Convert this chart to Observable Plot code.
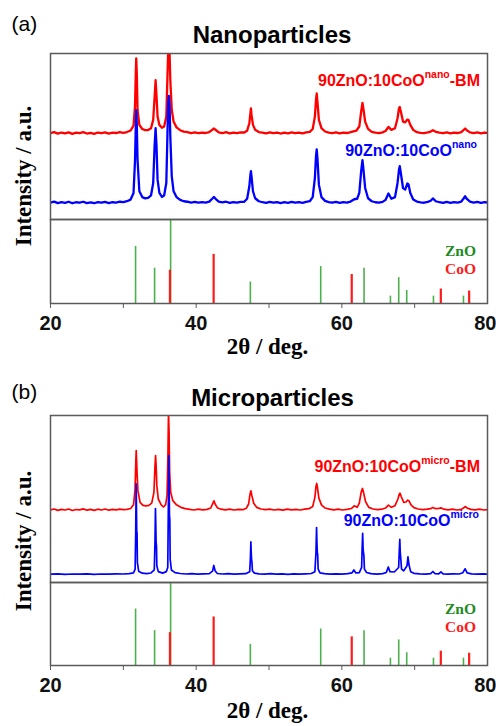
<!DOCTYPE html>
<html><head><meta charset="utf-8">
<script src="https://cdn.jsdelivr.net/npm/d3@7"></script>
<script src="https://cdn.jsdelivr.net/npm/@observablehq/plot@0.6"></script>
<style>
body{margin:0;background:#fff;}
#root{position:relative;width:496px;height:726px;overflow:hidden;background:#fff}
</style></head><body><div id="root"></div><script>
// ---- reference stick patterns (2θ, relative intensity %) ----
const znoPos = [31.68, 34.29, 36.49, 47.44, 57.10, 63.05, 66.67, 67.81, 68.91, 72.58, 76.70];
const znoRel = [68, 42, 100, 25.5, 44, 42, 8.8, 30.8, 15.4, 8.8, 8.8];
const cooPos = [36.40, 42.40, 61.36, 73.59, 77.48];
const cooRel = [39.6, 58.5, 34.5, 17.2, 14.8];

// ---- x axis ticks ----
const xTicks = [20, 30, 40, 50, 60, 70, 80];
const xTickLabels = ["20", "", "40", "", "60", "", "80"];

// ---- measured patterns (2θ, intensity a.u., stacked) ----
const nanoBM = [[20,52.0],[20.5,52.6],[21,51.7],[21.5,52.4],[22,51.9],[22.5,52.5],[23,51.6],[23.5,52.3],[24,52.0],[24.5,52.6],[25,51.8],[25.5,52.2],[26,51.6],[26.5,52.4],[27,52.0],[27.5,52.5],[28,51.7],[28.5,52.3],[29,52.1],[29.5,52.6],[30,52.2],[30.5,52.7],[31.0,53.6],[31.4,56.5],[31.6,68],[31.72,90],[31.77,97],[31.85,88],[31.95,66],[32.2,57],[32.6,54.5],[33.0,53.8],[33.4,53.9],[33.8,55],[34.1,60],[34.3,74],[34.43,83.9],[34.55,75],[34.7,62],[34.95,57],[35.3,55.3],[35.6,56],[35.9,62],[36.05,85],[36.15,100],[36.25,104],[36.35,100],[36.45,84],[36.65,66],[36.9,59],[37.3,55.5],[37.8,53.8],[38.3,52.9],[38.8,52.6],[39.3,52.1],[39.8,52.5],[40.3,52.0],[40.8,52.4],[41.3,52.1],[41.8,52.7],[42.2,54.0],[42.44,54.8],[42.7,53.9],[43.1,52.5],[43.6,52.1],[44.1,52.6],[44.6,51.9],[45.1,52.4],[45.6,52.0],[46.1,52.5],[46.6,52.4],[47.0,53.5],[47.3,58],[47.45,64],[47.52,66.9],[47.6,63],[47.8,57],[48.1,54],[48.6,52.7],[49.1,52.3],[49.6,51.9],[50.1,52.5],[50.6,52.0],[51.1,52.4],[51.6,51.8],[52.1,52.3],[52.6,51.9],[53.1,52.5],[53.6,52.0],[54.1,52.4],[54.6,51.9],[55.1,52.5],[55.6,52.8],[56.0,54.5],[56.3,62],[56.45,72],[56.55,75.9],[56.65,71],[56.85,60],[57.2,55],[57.7,53],[58.2,52.3],[58.7,52.0],[59.2,52.5],[59.7,51.9],[60.2,52.4],[60.7,52.1],[61.2,52.6],[61.6,53.1],[62.0,53.6],[62.4,56],[62.65,65],[62.83,70.2],[62.95,67],[63.2,59],[63.6,54.6],[64.1,52.8],[64.6,52.3],[65.1,52.0],[65.6,52.5],[66.0,53.3],[66.4,55.8],[66.8,54.0],[67.3,55],[67.65,61],[67.85,67],[67.95,67.8],[68.1,65],[68.4,59],[68.7,58.5],[69.0,60.2],[69.15,60],[69.4,57],[69.8,54],[70.3,52.6],[70.8,52.2],[71.3,52.0],[71.8,52.5],[72.2,53.0],[72.5,53.8],[72.9,52.8],[73.4,52.3],[73.9,52.0],[74.4,52.5],[74.9,51.9],[75.4,52.4],[75.9,52.1],[76.4,52.6],[76.7,53.8],[76.93,54.8],[77.2,53.6],[77.6,52.5],[78.1,52.1],[78.6,52.5],[79.1,51.9],[79.6,52.4],[80,52.1]];

const nano = [[20,10.2],[20.5,10.8],[21,9.9],[21.5,10.5],[22,10.0],[22.5,10.7],[23,9.8],[23.5,10.4],[24,10.1],[24.5,10.7],[25,9.9],[25.5,10.3],[26,9.8],[26.5,10.5],[27,10.1],[27.5,10.6],[28,9.9],[28.5,10.4],[29,10.2],[29.5,10.7],[30,10.5],[30.5,11.0],[31.0,12.0],[31.4,16],[31.6,35],[31.72,58],[31.77,65.8],[31.85,57],[31.95,36],[32.2,17],[32.6,13.5],[33.0,12.7],[33.4,13.0],[33.8,14.5],[34.1,22],[34.3,45],[34.43,55],[34.55,45],[34.7,24],[34.95,16],[35.3,13.6],[35.6,14.5],[35.9,22],[36.05,50],[36.15,70],[36.25,74.5],[36.35,69],[36.45,50],[36.65,26],[36.9,17],[37.3,13.5],[37.8,11.8],[38.3,11.0],[38.8,10.7],[39.3,10.2],[39.8,10.6],[40.3,10.1],[40.8,10.5],[41.3,10.2],[41.8,10.8],[42.2,12.5],[42.44,13.6],[42.7,12.3],[43.1,10.8],[43.6,10.3],[44.1,10.7],[44.6,10.0],[45.1,10.5],[45.6,10.1],[46.1,10.6],[46.6,10.7],[47.0,12.5],[47.3,20],[47.45,27],[47.52,29.1],[47.6,26],[47.8,17],[48.1,12.8],[48.6,11.0],[49.1,10.4],[49.6,10.0],[50.1,10.6],[50.6,10.1],[51.1,10.5],[51.6,9.9],[52.1,10.4],[52.6,10.0],[53.1,10.6],[53.6,10.1],[54.1,10.5],[54.6,10.0],[55.1,10.6],[55.6,11.0],[56.0,13.5],[56.3,25],[56.45,38],[56.55,42.2],[56.65,37],[56.85,21],[57.2,13.5],[57.7,11.2],[58.2,10.5],[58.7,10.1],[59.2,10.6],[59.7,10.0],[60.2,10.5],[60.7,10.2],[61.2,10.8],[61.7,12.2],[62.1,12.5],[62.4,16],[62.65,29],[62.83,35.7],[62.95,31],[63.2,19],[63.6,12.8],[64.1,11.0],[64.6,10.4],[65.1,10.1],[65.6,10.6],[66.0,11.8],[66.4,15.7],[66.8,12.5],[67.3,13.5],[67.65,22],[67.85,30],[67.95,32.1],[68.1,28],[68.4,19],[68.7,18],[69.0,21.7],[69.15,21.2],[69.4,16],[69.8,12],[70.3,10.8],[70.8,10.3],[71.3,10.1],[71.8,10.6],[72.2,11.3],[72.5,12.7],[72.9,11.0],[73.4,10.4],[73.9,10.0],[74.4,10.6],[74.9,10.0],[75.4,10.5],[75.9,10.2],[76.4,10.8],[76.7,12.5],[76.93,14.0],[77.2,12.2],[77.6,10.7],[78.1,10.2],[78.6,10.6],[79.1,10.0],[79.6,10.5],[80,10.2]];

const microBM = [[20,43.5],[20.5,44.0],[21,43.2],[21.5,43.8],[22,43.4],[22.5,44.0],[23,43.1],[23.5,43.7],[24,43.5],[24.5,44.1],[25,43.3],[25.5,43.8],[26,43.2],[26.5,43.9],[27,43.4],[27.5,44.0],[28,43.3],[28.5,43.8],[29,43.5],[29.5,43.9],[30,43.6],[30.5,43.8],[31.0,44.3],[31.4,46.5],[31.6,55],[31.72,73],[31.77,79],[31.83,72],[31.9,64],[32.0,55],[32.3,48],[32.7,46.2],[33.1,45.9],[33.5,46.2],[33.9,47.5],[34.2,54],[34.35,70],[34.43,76],[34.5,70],[34.6,58],[34.8,50],[35.2,46.5],[35.5,45.2],[35.8,46.5],[36.0,52],[36.12,75],[36.2,102],[36.28,90],[36.36,66],[36.5,54],[36.8,49],[37.3,46.5],[37.9,45.0],[38.5,44.2],[39.1,43.8],[39.7,43.4],[40.3,43.9],[40.9,43.5],[41.5,43.8],[42.0,44.6],[42.3,47.5],[42.44,48.9],[42.6,47.0],[42.9,44.8],[43.4,43.9],[44.0,43.5],[44.6,43.9],[45.2,43.4],[45.8,43.8],[46.4,43.6],[46.9,44.5],[47.2,47],[47.4,53],[47.52,54.9],[47.65,52],[47.9,47.5],[48.3,45.0],[48.9,44.0],[49.5,43.6],[50.1,43.9],[50.7,43.4],[51.3,43.8],[51.9,43.3],[52.5,43.9],[53.1,43.5],[53.7,43.8],[54.3,43.4],[54.9,43.9],[55.5,44.2],[56.0,45.5],[56.3,51],[56.45,57.5],[56.55,59.3],[56.65,57],[56.85,50.5],[57.2,46.5],[57.7,44.6],[58.3,43.9],[58.9,43.5],[59.5,43.9],[60.1,43.4],[60.7,43.8],[61.3,44.3],[61.7,45.9],[62.1,45.0],[62.4,47.5],[62.65,54],[62.83,56.3],[62.98,54],[63.25,48.5],[63.7,45.0],[64.3,44.0],[64.9,43.6],[65.5,43.9],[66.0,44.6],[66.4,46.3],[66.8,45.0],[67.3,46],[67.7,50],[67.9,53],[67.98,53.5],[68.15,51.5],[68.5,48],[68.8,48.2],[69.05,49.3],[69.2,49],[69.5,46.5],[69.9,44.8],[70.5,44.0],[71.1,43.6],[71.7,43.9],[72.2,44.2],[72.5,44.9],[72.9,44.2],[73.3,44.3],[73.6,44.7],[74.0,43.9],[74.6,43.5],[75.2,43.9],[75.8,43.4],[76.4,43.8],[76.7,44.6],[76.93,45.5],[77.2,44.6],[77.7,43.8],[78.3,43.5],[78.9,43.9],[79.5,43.4],[80,43.7]];

const micro = [[20,5.0],[21,5.2],[22,4.9],[23,5.1],[24,5.0],[25,5.2],[26,4.9],[27,5.1],[28,5.0],[29,5.2],[30,5.1],[30.8,5.3],[31.4,5.8],[31.62,8],[31.7,30],[31.76,59],[31.8,45],[31.84,30],[31.88,30],[31.93,12],[32.1,6.8],[32.6,5.6],[33.2,5.3],[33.8,5.7],[34.25,7.5],[34.35,25],[34.41,44.3],[34.46,34],[34.5,24],[34.55,22],[34.6,10],[34.8,6.5],[35.4,5.6],[35.9,6.5],[36.1,9],[36.18,45],[36.24,76],[36.29,58],[36.33,40],[36.38,38],[36.43,14],[36.6,7.5],[37.1,5.9],[37.8,5.4],[38.6,5.1],[39.4,5.3],[40.2,5.0],[41.0,5.2],[41.8,5.3],[42.25,6.8],[42.42,10.2],[42.6,7.0],[42.9,5.4],[43.6,5.1],[44.4,5.3],[45.2,5.0],[46.0,5.2],[46.8,5.3],[47.35,6.5],[47.45,15],[47.51,24.3],[47.56,18],[47.6,14],[47.66,12],[47.72,7],[48.0,5.6],[48.6,5.2],[49.4,5.0],[50.2,5.3],[51.0,5.0],[51.8,5.2],[52.6,4.9],[53.4,5.2],[54.2,5.0],[55.0,5.2],[55.8,5.4],[56.3,6.5],[56.45,18],[56.53,32.9],[56.58,24],[56.63,18],[56.68,17],[56.75,8],[57.0,5.8],[57.6,5.3],[58.4,5.0],[59.2,5.2],[60.0,5.0],[60.8,5.3],[61.4,5.8],[61.65,7.5],[61.9,5.8],[62.4,5.9],[62.72,9],[62.8,22],[62.86,29.4],[62.92,20],[62.97,18],[63.03,16],[63.1,8],[63.4,6.0],[64.0,5.3],[64.8,5.0],[65.6,5.3],[66.1,6.0],[66.38,9.3],[66.6,6.5],[67.2,6.3],[67.8,9],[67.9,20],[67.96,25.8],[68.02,18],[68.1,14],[68.2,8],[68.5,7.0],[68.95,10],[69.08,15.3],[69.15,13],[69.25,10],[69.45,6.5],[69.9,5.5],[70.7,5.2],[71.5,5.0],[72.2,5.3],[72.5,6.6],[72.8,5.3],[73.3,5.2],[73.6,6.4],[73.9,5.2],[74.5,5.0],[75.3,5.2],[76.1,5.1],[76.6,5.8],[76.93,8.2],[77.2,5.8],[77.8,5.2],[78.6,5.0],[79.4,5.2],[80,5.0]];

// ---- text ----
const panelTags = ["(a)", "(b)"];
const panelTitles = ["Nanoparticles", "Microparticles"];
const seriesLabels = [["90ZnO:10CoO", "nano", "-BM"], ["90ZnO:10CoO", "nano", ""], ["90ZnO:10CoO", "micro", "-BM"], ["90ZnO:10CoO", "micro", ""]];
const legendLabels = ["ZnO", "CoO"];
const yLabel = "Intensity / a.u.";
const xLabel = "2θ / deg.";

const RED = "#ff0000", BLUE = "#0000ff", GREEN = "#4cb04c", GREEN_TXT = "#1f8a1f", STICK_RED = "#ff1a1a", FRAME = "#5a5a5a";
const SANS = "Arial, 'Liberation Sans', sans-serif";
const SERIF = "'Times New Roman', 'Liberation Serif', serif";

const zno = znoPos.map((p, i) => ({pos: p, rel: znoRel[i]}));
const coo = cooPos.map((p, i) => ({pos: p, rel: cooRel[i]}));
const lastTick = xTicks[xTicks.length - 1];

const root = document.getElementById("root");
function place(svg, top) {
  svg.style.position = "absolute"; svg.style.left = "0px"; svg.style.top = top + "px";
  root.appendChild(svg);
}

function curvePlot(series, h) {
  return Plot.plot({
    width: 496, height: h, marginLeft: 50, marginRight: 9, marginTop: 0, marginBottom: 0,
    style: {overflow: "visible", background: "transparent"},
    x: {domain: [20, 80], axis: null},
    y: {domain: [0, 100], axis: null},
    marks: [
      ...series.map(s => Plot.line(s.data, {x: d => d[0], y: d => d[1], stroke: s.color, strokeWidth: s.width, clip: true, strokeLinejoin: "round"})),
      Plot.frame({stroke: FRAME, strokeWidth: 1.5})
    ]
  });
}

function stickPlot(h) {
  const axisStyle = {tickSize: 5, tickPadding: 7, stroke: FRAME, fill: "#111", fontSize: 20, fontWeight: "bold", fontFamily: SANS, label: null};
  return Plot.plot({
    width: 496, height: h + 45, marginLeft: 50, marginRight: 9, marginTop: 0, marginBottom: 45,
    style: {overflow: "visible", background: "transparent"},
    x: {domain: [20, 80]},
    y: {domain: [0, 100], axis: null},
    marks: [
      Plot.ruleX(zno, {x: "pos", y1: 0, y2: "rel", stroke: GREEN, strokeWidth: 1.6}),
      Plot.ruleX(coo, {x: "pos", y1: 0, y2: "rel", stroke: STICK_RED, strokeWidth: 2.2}),
      Plot.frame({stroke: FRAME, strokeWidth: 1.5}),
      Plot.axisX({...axisStyle, ticks: xTicks.slice(0, -1), tickFormat: d => xTickLabels[xTicks.indexOf(d)]}),
      Plot.axisX({...axisStyle, ticks: [lastTick], tickFormat: d => xTickLabels[xTicks.indexOf(d)], textAnchor: "end", dx: 9})
    ]
  });
}

// panel (a)
place(curvePlot([{data: nanoBM, color: RED, width: 2.3}, {data: nano, color: BLUE, width: 2.3}], 166), 53);
place(stickPlot(84), 219);
// panel (b)
place(curvePlot([{data: microBM, color: RED, width: 1.7}, {data: micro, color: BLUE, width: 1.7}], 167), 415);
place(stickPlot(83), 582);

// text overlay
const ov = d3.create("svg").attr("width", 496).attr("height", 726)
  .style("position", "absolute").style("left", "0px").style("top", "0px").style("pointer-events", "none");

const layout = [
  {tagY: 30.6, titleY: 42.7, titleX: 272, yLabY: 176, xLabY: 353.5, legY: [256, 273.5], labY: [86, 156], labX: [480, 477], labels: [0, 1]},
  {tagY: 399, titleY: 406, titleX: 272.5, yLabY: 541, xLabY: 717.5, legY: [614, 631.5], labY: [472, 526], labX: [480, 479], labels: [2, 3]}
];
layout.forEach((L, p) => {
  ov.append("text").attr("x", 11.5).attr("y", L.tagY).attr("font-family", SANS).attr("font-size", 21).text(panelTags[p]);
  ov.append("text").attr("x", L.titleX).attr("y", L.titleY).attr("text-anchor", "middle").attr("font-family", SANS)
    .attr("font-size", 24).attr("font-weight", "bold").text(panelTitles[p]);
  ov.append("text").attr("transform", `translate(31,${L.yLabY}) rotate(-90)`).attr("text-anchor", "middle")
    .attr("font-family", SERIF).attr("font-size", 23).attr("font-weight", "bold").text(yLabel);
  ov.append("text").attr("x", 267.5).attr("y", L.xLabY).attr("text-anchor", "middle")
    .attr("font-family", SERIF).attr("font-size", 23).attr("font-weight", "bold").text(xLabel);
  legendLabels.forEach((t, i) => {
    ov.append("text").attr("x", 476).attr("y", L.legY[i]).attr("text-anchor", "end").attr("font-family", SERIF)
      .attr("font-size", 15.5).attr("font-weight", "bold").attr("fill", i === 0 ? GREEN_TXT : STICK_RED).text(t);
  });
  L.labels.forEach((li, k) => {
    const [a, sup, b] = seriesLabels[li];
    const t = ov.append("text").attr("x", L.labX[k]).attr("y", L.labY[k]).attr("text-anchor", "end")
      .attr("font-family", SANS).attr("font-size", 16).attr("font-weight", "bold").attr("fill", k === 0 ? RED : BLUE);
    t.append("tspan").text(a);
    t.append("tspan").attr("dy", -8).attr("font-size", 10.5).text(sup);
    if (b) t.append("tspan").attr("dy", 8).text(b);
  });
});
root.appendChild(ov.node());
</script></body></html>
